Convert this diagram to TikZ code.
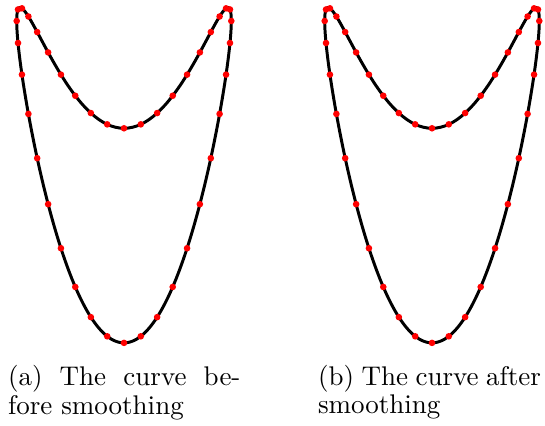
\documentclass[tikz,border=0pt]{standalone}
\usetikzlibrary{positioning}
\tolerance=9999

\begin{document}
\begin{tikzpicture}[
  x=0.3704pt, y=0.3704pt,
  curve/.style={line width=1.1pt, black},
  dot/.style={fill=red},
  caption/.style={align=justify, inner sep=0pt, anchor=base west, font=\fontsize{10}{9}\selectfont}
]
\useasboundingbox (0,0) rectangle (545,426);

% both panels: x = cos t, y = sin t - 2 sin^2 t
\foreach \cx in {124,432} {
  \draw[curve] plot[domain=0:360, samples=161, smooth]
    ({\cx+107.3*cos(\x)}, {405+107.3*sin(\x)-214.6*pow(sin(\x),2)}) -- cycle;
  \foreach \t in {0,9,...,351}
    \fill[dot] ({\cx+107.3*cos(\t)}, {405+107.3*sin(\t)-214.6*pow(sin(\t),2)}) circle[radius=3.3];
}

\node[caption, text width=86.1pt] (before) at (7.5,40.3) {(a) The curve before smoothing};
\node[caption, text width=82.6pt] (after) at (317.5,40.3) {(b) The curve after smoothing};
\end{tikzpicture}
\end{document}
